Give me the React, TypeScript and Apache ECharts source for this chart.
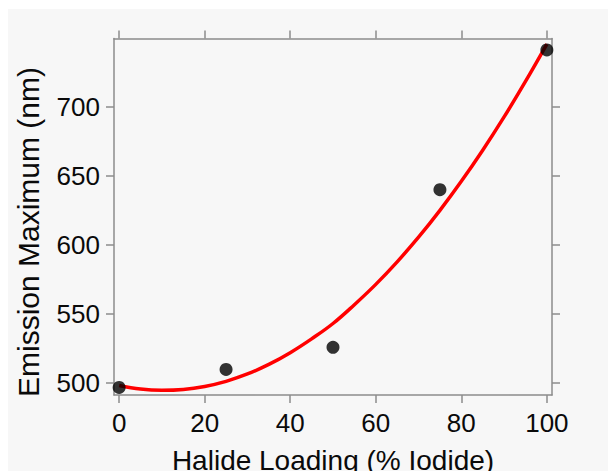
import React, { useEffect, useRef } from "react";
import * as echarts from "echarts";

// Measured data points
const loadingPct = [0, 25, 50, 75, 100];
const emissionNm = [497, 510, 526, 640, 741];

// Red fitted curve
const fitX = [0, 5, 10, 15, 20, 25, 30, 35, 40, 45, 50, 55, 60, 65, 70, 75, 80, 85, 90, 95, 100];
const fitY = [498.4, 495.8, 494.9, 495.5, 497.7, 501.4, 506.7, 513.6, 522.1, 532.1, 543.2, 556.8, 571.5, 587.8, 605.6, 625.0, 646.0, 668.5, 692.6, 718.3, 745.3];

// Tick labels
const xTicks = [0, 20, 40, 60, 80, 100];
const yTicks = [500, 550, 600, 650, 700];

const xTitle = "Halide Loading (% Iodide)";
const yTitle = "Emission Maximum (nm)";

const FONT = '"Liberation Sans", Arial, Helvetica, sans-serif';
const AXIS_COLOR = "#8c8c8c";
const TEXT_COLOR = "#0a0a0a";

export default function App() {
  const ref = useRef<HTMLDivElement>(null);

  useEffect(() => {
    if (!ref.current) return;
    const chart = echarts.init(ref.current, null, { renderer: "svg" });

    const xMin = -1.2;
    const xMax = 101.2;
    const yMin = 491.5;
    const yMax = 749.3;

    const axisLine = { show: true, onZero: false, lineStyle: { color: AXIS_COLOR, width: 1.5 } };
    const tickStyle = { color: AXIS_COLOR, width: 1.5 };

    const option: any = {
      animation: false,
      backgroundColor: "transparent",
      grid: { left: 114, top: 38.5, right: 56, bottom: 76, containLabel: false },
      graphic: [
        {
          type: "rect",
          z: -10,
          silent: true,
          shape: { x: 8, y: 9, width: 600, height: 462 },
          style: { fill: "#f7f7f7" },
        },
        {
          type: "text",
          x: 333,
          y: 460,
          silent: true,
          style: {
            text: xTitle,
            font: `28px ${FONT}`,
            fill: TEXT_COLOR,
            align: "center",
            verticalAlign: "middle",
          },
        },
        {
          type: "text",
          x: 28,
          y: 232,
          rotation: Math.PI / 2,
          silent: true,
          style: {
            text: yTitle,
            font: `30px ${FONT}`,
            fill: TEXT_COLOR,
            align: "center",
            verticalAlign: "middle",
          },
        },
      ],
      xAxis: [
        {
          type: "value",
          position: "bottom",
          min: xMin,
          max: xMax,
          axisLine,
          splitLine: { show: false },
          axisTick: { show: true, inside: false, length: 8, customValues: xTicks, lineStyle: tickStyle },
          axisLabel: {
            show: true,
            margin: 15,
            customValues: xTicks,
            fontSize: 26,
            fontFamily: FONT,
            color: TEXT_COLOR,
          },
        },
        {
          type: "value",
          position: "top",
          min: xMin,
          max: xMax,
          axisLine,
          splitLine: { show: false },
          axisTick: { show: true, inside: false, length: 8, customValues: xTicks, lineStyle: tickStyle },
          axisLabel: { show: false },
        },
      ],
      yAxis: [
        {
          type: "value",
          position: "left",
          min: yMin,
          max: yMax,
          axisLine,
          splitLine: { show: false },
          axisTick: { show: true, inside: false, length: 8, customValues: yTicks, lineStyle: tickStyle },
          axisLabel: {
            show: true,
            margin: 14,
            customValues: yTicks,
            fontSize: 26,
            fontFamily: FONT,
            color: TEXT_COLOR,
          },
        },
        {
          type: "value",
          position: "right",
          min: yMin,
          max: yMax,
          axisLine,
          splitLine: { show: false },
          axisTick: { show: true, inside: false, length: 8, customValues: yTicks, lineStyle: tickStyle },
          axisLabel: { show: false },
        },
      ],
      series: [
        {
          type: "line",
          name: "fit",
          xAxisIndex: 0,
          yAxisIndex: 0,
          data: fitX.map((x, i) => [x, fitY[i]]),
          smooth: 0.4,
          showSymbol: false,
          symbol: "none",
          lineStyle: { color: "#ff0000", width: 3.5 },
          z: 2,
        },
        {
          type: "scatter",
          name: "data",
          xAxisIndex: 0,
          yAxisIndex: 0,
          data: loadingPct.map((x, i) => [x, emissionNm[i]]),
          symbol: "circle",
          symbolSize: 13,
          itemStyle: { color: "#000000" },
          z: 3,
        },
      ],
    };

    chart.setOption(option);
    return () => chart.dispose();
  }, []);

  return (
    <div
      ref={ref}
      style={{ position: "absolute", left: 0, top: 0, width: 608, height: 471 }}
    />
  );
}
